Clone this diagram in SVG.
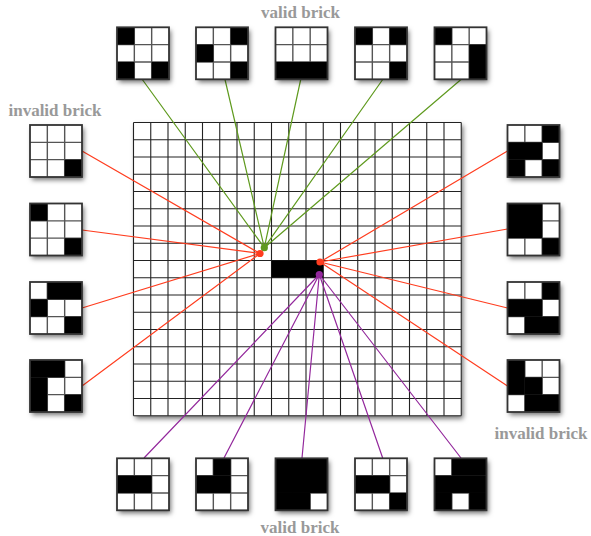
<svg xmlns="http://www.w3.org/2000/svg" width="591" height="536" viewBox="0 0 591 536">
<defs>
<filter id="sh" x="-20%" y="-20%" width="150%" height="150%">
<feDropShadow dx="2" dy="3" stdDeviation="2.5" flood-color="#000" flood-opacity="0.55"/>
</filter>
</defs>
<style>
.lbl{font-family:"Liberation Serif","Times New Roman",serif;font-weight:bold;font-size:17px;fill:#999;text-anchor:middle}
.bg{fill:#fff}
.k{fill:#000}
.gl{stroke:#555;stroke-width:1.4;fill:none}
.bd{fill:none;stroke:#333;stroke-width:1.8}
.ml{stroke:#222;stroke-width:1.1;fill:none}
.g{stroke:#5f9a1e;stroke-width:1.2;fill:none}
.r{stroke:#ff3d1f;stroke-width:1.2;fill:none}
.p{stroke:#93289c;stroke-width:1.2;fill:none}
</style>

<rect width="591" height="536" fill="#fff"/>

<g id="board">
<rect x="133.5" y="122.5" width="327.75" height="293.25" class="bg" filter="url(#sh)"/>
<path class="ml" d="M133.5 122.5V415.75M150.75 122.5V415.75M168 122.5V415.75M185.25 122.5V415.75M202.5 122.5V415.75M219.75 122.5V415.75M237 122.5V415.75M254.25 122.5V415.75M271.5 122.5V415.75M288.75 122.5V415.75M306 122.5V415.75M323.25 122.5V415.75M340.5 122.5V415.75M357.75 122.5V415.75M375 122.5V415.75M392.25 122.5V415.75M409.5 122.5V415.75M426.75 122.5V415.75M444 122.5V415.75M461.25 122.5V415.75"/>
<path class="ml" d="M133.5 122.5H461.25M133.5 139.75H461.25M133.5 157H461.25M133.5 174.25H461.25M133.5 191.5H461.25M133.5 208.75H461.25M133.5 226H461.25M133.5 243.25H461.25M133.5 260.5H461.25M133.5 277.75H461.25M133.5 295H461.25M133.5 312.25H461.25M133.5 329.5H461.25M133.5 346.75H461.25M133.5 364H461.25M133.5 381.25H461.25M133.5 398.5H461.25M133.5 415.75H461.25"/>
<rect x="271.5" y="260.5" width="51.75" height="17.25" class="k"/>
</g>

<g id="connectors">
<path class="g" d="M142.3 79.5L264.3 247.7M225 79.5L264.3 247.7M300.7 79.5L264.3 247.7M382.7 79.5L264.3 247.7M461 79.5L264.3 247.7"/>
<path class="r" d="M82 151L260 253.5M82 230L260 253.5M82 308L260 253.5M82 386L260 253.5"/>
<path class="r" d="M320 262L507.5 151M320 262L507.5 229M320 262L507.5 308M320 262L507.5 386"/>
<path class="p" d="M319.3 274.5L144 458M319.3 274.5L224 458M319.3 274.5L302 458M319.3 274.5L382.7 458M319.3 274.5L461 458"/>
<circle cx="264.3" cy="247.7" r="3.6" fill="#5f9a1e"/>
<circle cx="260" cy="253.5" r="3.6" fill="#ff3d1f"/>
<circle cx="320" cy="262" r="3.6" fill="#ff3d1f"/>
<circle cx="319.3" cy="274.5" r="3.6" fill="#93289c"/>
</g>

<text class="lbl" x="300.5" y="18">valid brick</text>
<text class="lbl" x="55" y="115.5">invalid brick</text>
<text class="lbl" x="541" y="438.5">invalid brick</text>
<text class="lbl" x="300" y="533">valid brick</text>

<!-- top valid bricks -->
<g id="top1" transform="translate(117,27.3)">
<rect width="52" height="52" class="bg" filter="url(#sh)"/>
<path class="gl" d="M17.33 0V52M34.67 0V52M0 17.33H52M0 34.67H52"/>
<rect x="0" y="0" width="17.33" height="17.33" class="k"/><rect x="0" y="34.67" width="17.33" height="17.33" class="k"/><rect x="34.67" y="34.67" width="17.33" height="17.33" class="k"/>
<rect width="52" height="52" class="bd"/>
</g>
<g id="top2" transform="translate(196,27.3)">
<rect width="52" height="52" class="bg" filter="url(#sh)"/>
<path class="gl" d="M17.33 0V52M34.67 0V52M0 17.33H52M0 34.67H52"/>
<rect x="34.67" y="0" width="17.33" height="17.33" class="k"/><rect x="0" y="17.33" width="17.33" height="17.33" class="k"/><rect x="34.67" y="34.67" width="17.33" height="17.33" class="k"/>
<rect width="52" height="52" class="bd"/>
</g>
<g id="top3" transform="translate(275.5,27.3)">
<rect width="52" height="52" class="bg" filter="url(#sh)"/>
<path class="gl" d="M17.33 0V52M34.67 0V52M0 17.33H52M0 34.67H52"/>
<rect x="0" y="34.67" width="52" height="17.33" class="k"/>
<rect width="52" height="52" class="bd"/>
</g>
<g id="top4" transform="translate(355,27.3)">
<rect width="52" height="52" class="bg" filter="url(#sh)"/>
<path class="gl" d="M17.33 0V52M34.67 0V52M0 17.33H52M0 34.67H52"/>
<rect x="0" y="0" width="17.33" height="17.33" class="k"/><rect x="34.67" y="0" width="17.33" height="17.33" class="k"/><rect x="34.67" y="34.67" width="17.33" height="17.33" class="k"/>
<rect width="52" height="52" class="bd"/>
</g>
<g id="top5" transform="translate(434.5,27.3)">
<rect width="52" height="52" class="bg" filter="url(#sh)"/>
<path class="gl" d="M17.33 0V52M34.67 0V52M0 17.33H52M0 34.67H52"/>
<rect x="0" y="0" width="17.33" height="17.33" class="k"/><rect x="34.67" y="17.33" width="17.33" height="34.67" class="k"/>
<rect width="52" height="52" class="bd"/>
</g>

<!-- left invalid bricks -->
<g id="left1" transform="translate(30,125)">
<rect width="52" height="52" class="bg" filter="url(#sh)"/>
<path class="gl" d="M17.33 0V52M34.67 0V52M0 17.33H52M0 34.67H52"/>
<rect x="34.67" y="34.67" width="17.33" height="17.33" class="k"/>
<rect width="52" height="52" class="bd"/>
</g>
<g id="left2" transform="translate(30,203.5)">
<rect width="52" height="52" class="bg" filter="url(#sh)"/>
<path class="gl" d="M17.33 0V52M34.67 0V52M0 17.33H52M0 34.67H52"/>
<rect x="0" y="0" width="17.33" height="17.33" class="k"/><rect x="34.67" y="34.67" width="17.33" height="17.33" class="k"/>
<rect width="52" height="52" class="bd"/>
</g>
<g id="left3" transform="translate(30,282)">
<rect width="52" height="52" class="bg" filter="url(#sh)"/>
<path class="gl" d="M17.33 0V52M34.67 0V52M0 17.33H52M0 34.67H52"/>
<rect x="17.33" y="0" width="34.67" height="17.33" class="k"/><rect x="0" y="17.33" width="17.33" height="17.33" class="k"/><rect x="34.67" y="34.67" width="17.33" height="17.33" class="k"/>
<rect width="52" height="52" class="bd"/>
</g>
<g id="left4" transform="translate(30,360)">
<rect width="52" height="52" class="bg" filter="url(#sh)"/>
<path class="gl" d="M17.33 0V52M34.67 0V52M0 17.33H52M0 34.67H52"/>
<rect x="0" y="0" width="34.67" height="17.33" class="k"/><rect x="0" y="17.33" width="17.33" height="34.67" class="k"/><rect x="34.67" y="34.67" width="17.33" height="17.33" class="k"/>
<rect width="52" height="52" class="bd"/>
</g>

<!-- right invalid bricks -->
<g id="right1" transform="translate(507.5,125)">
<rect width="52" height="52" class="bg" filter="url(#sh)"/>
<path class="gl" d="M17.33 0V52M34.67 0V52M0 17.33H52M0 34.67H52"/>
<rect x="34.67" y="0" width="17.33" height="17.33" class="k"/><rect x="0" y="17.33" width="34.67" height="17.33" class="k"/><rect x="0" y="34.67" width="17.33" height="17.33" class="k"/><rect x="34.67" y="34.67" width="17.33" height="17.33" class="k"/>
<rect width="52" height="52" class="bd"/>
</g>
<g id="right2" transform="translate(507.5,203.5)">
<rect width="52" height="52" class="bg" filter="url(#sh)"/>
<path class="gl" d="M17.33 0V52M34.67 0V52M0 17.33H52M0 34.67H52"/>
<rect x="0" y="0" width="34.67" height="34.67" class="k"/><rect x="34.67" y="34.67" width="17.33" height="17.33" class="k"/>
<rect width="52" height="52" class="bd"/>
</g>
<g id="right3" transform="translate(507.5,282)">
<rect width="52" height="52" class="bg" filter="url(#sh)"/>
<path class="gl" d="M17.33 0V52M34.67 0V52M0 17.33H52M0 34.67H52"/>
<rect x="34.67" y="0" width="17.33" height="17.33" class="k"/><rect x="0" y="17.33" width="34.67" height="17.33" class="k"/><rect x="17.33" y="34.67" width="34.67" height="17.33" class="k"/>
<rect width="52" height="52" class="bd"/>
</g>
<g id="right4" transform="translate(507.5,360)">
<rect width="52" height="52" class="bg" filter="url(#sh)"/>
<path class="gl" d="M17.33 0V52M34.67 0V52M0 17.33H52M0 34.67H52"/>
<rect x="0" y="0" width="17.33" height="34.67" class="k"/><rect x="17.33" y="17.33" width="17.33" height="17.33" class="k"/><rect x="17.33" y="34.67" width="34.67" height="17.33" class="k"/>
<rect width="52" height="52" class="bd"/>
</g>

<!-- bottom valid bricks -->
<g id="bot1" transform="translate(117,458.3)">
<rect width="52" height="52" class="bg" filter="url(#sh)"/>
<path class="gl" d="M17.33 0V52M34.67 0V52M0 17.33H52M0 34.67H52"/>
<rect x="0" y="17.33" width="34.67" height="17.33" class="k"/>
<rect width="52" height="52" class="bd"/>
</g>
<g id="bot2" transform="translate(196,458.3)">
<rect width="52" height="52" class="bg" filter="url(#sh)"/>
<path class="gl" d="M17.33 0V52M34.67 0V52M0 17.33H52M0 34.67H52"/>
<rect x="17.33" y="0" width="17.33" height="17.33" class="k"/><rect x="0" y="17.33" width="34.67" height="17.33" class="k"/>
<rect width="52" height="52" class="bd"/>
</g>
<g id="bot3" transform="translate(275.5,458.3)">
<rect width="52" height="52" class="bg" filter="url(#sh)"/>
<path class="gl" d="M17.33 0V52M34.67 0V52M0 17.33H52M0 34.67H52"/>
<rect x="0" y="0" width="52" height="34.67" class="k"/><rect x="0" y="34.67" width="34.67" height="17.33" class="k"/>
<rect width="52" height="52" class="bd"/>
</g>
<g id="bot4" transform="translate(355,458.3)">
<rect width="52" height="52" class="bg" filter="url(#sh)"/>
<path class="gl" d="M17.33 0V52M34.67 0V52M0 17.33H52M0 34.67H52"/>
<rect x="0" y="17.33" width="34.67" height="17.33" class="k"/><rect x="34.67" y="34.67" width="17.33" height="17.33" class="k"/>
<rect width="52" height="52" class="bd"/>
</g>
<g id="bot5" transform="translate(434.5,458.3)">
<rect width="52" height="52" class="bg" filter="url(#sh)"/>
<path class="gl" d="M17.33 0V52M34.67 0V52M0 17.33H52M0 34.67H52"/>
<rect x="17.33" y="0" width="34.67" height="17.33" class="k"/><rect x="0" y="17.33" width="52" height="17.33" class="k"/><rect x="0" y="34.67" width="17.33" height="17.33" class="k"/><rect x="34.67" y="34.67" width="17.33" height="17.33" class="k"/>
<rect width="52" height="52" class="bd"/>
</g>
</svg>
